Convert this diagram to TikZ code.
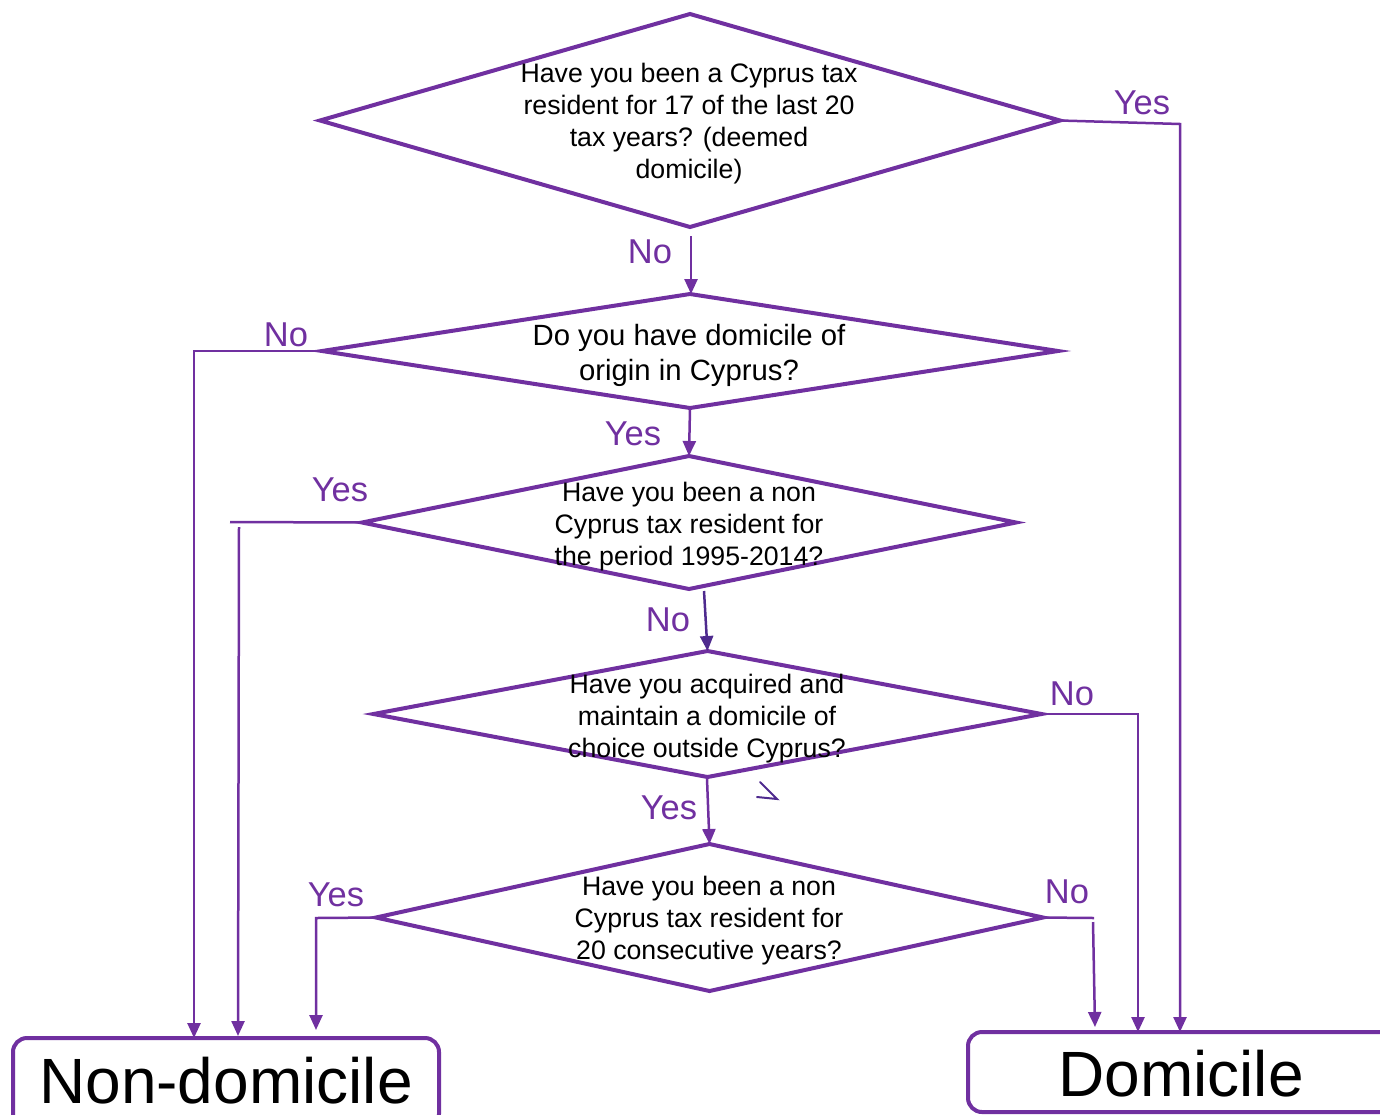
\documentclass[tikz,border=0pt]{standalone}
\usepackage{fontspec}
\setmainfont{Liberation Sans}
\usetikzlibrary{shapes.geometric,arrows.meta}
\definecolor{pur}{HTML}{7030A0}
\definecolor{dpur}{HTML}{4E2A8E}
\begin{document}
\begin{tikzpicture}[x=1pt,y=-1pt,
  dia/.style={diamond, draw=pur, line width=4pt, inner sep=0pt, outer sep=0pt},
  qtext/.style={align=center, text=black, inner sep=0pt, font=\fontsize{26.7}{32}\selectfont},
  qbig/.style={align=center, text=black, inner sep=0pt, font=\fontsize{29.3}{35}\selectfont},
  lbl/.style={text=pur, inner sep=0pt, font=\fontsize{34.5}{40}\selectfont},
  conn/.style={draw=pur, line width=2.5pt},
  arr/.style={conn, -{Triangle[length=15pt,width=13pt]}},
  endbox/.style={draw=pur, line width=4pt, rounded corners=14pt, inner sep=0pt, outer sep=0pt},
  endtext/.style={text=black, inner sep=0pt, font=\fontsize{64}{70}\selectfont}]
\useasboundingbox (0,0) rectangle (1380,1114);

% diamonds
\node[dia, minimum width=740pt, minimum height=213pt] (d1) at (690,120.5) {};
\node[qtext] (t1) at (689,124) {Have you been a Cyprus tax\\resident for 17 of the last 20\\tax years? (deemed\\domicile)};

\node[dia, minimum width=736pt, minimum height=114pt] (d2) at (690,351) {};
\node[qbig] (t2) at (689,355) {Do you have domicile of\\origin in Cyprus?};

\node[dia, minimum width=654pt, minimum height=133pt] (d3) at (689,522.5) {};
\node[qtext] (t3) at (689,527) {Have you been a non\\Cyprus tax resident for\\the period 1995-2014?};

\node[dia, minimum width=668pt, minimum height=126pt] (d4) at (707.5,714) {};
\node[qtext] (t4) at (707,719) {Have you acquired and\\maintain a domicile of\\choice outside Cyprus?};

\node[dia, minimum width=667pt, minimum height=147pt] (d5) at (709.5,917.5) {};
\node[qtext] (t5) at (709,921) {Have you been a non\\Cyprus tax resident for\\20 consecutive years?};

% outcome boxes
\node[endbox, minimum width=426pt, minimum height=90pt] (nd) at (226,1083) {};
\node[endtext] (ndt) at (226,1081) {Non-domicile};
\node[endbox, minimum width=426pt, minimum height=80pt] (dom) at (1181,1072) {};
\node[endtext] (domt) at (1181,1074) {Domicile};

% helper coordinates
\coordinate (c1) at (1180,124);
\coordinate (c2) at (194,351);
\coordinate (c3a) at (230,522);
\coordinate (c3b) at (239,527);
\coordinate (c4) at (1138,714);
\coordinate (c5l) at (316,918);
\coordinate (c5a) at (1094,918);
\coordinate (c5b) at (1093,922);
\coordinate (a12) at (691,236);
\coordinate (a34) at (704,591);
\coordinate (a45) at (707,779);

% connectors
\draw[arr] (d1.east) -- (c1) -- (c1 |- dom.north);
\draw[arr] (a12) -- (a12 |- d2.north);
\draw[arr] (d2.west) -- (c2) -- (c2 |- nd.north);
\draw[arr] (d2.south) -- (d3.north);
\draw[conn] (d3.west) -- (c3a);
\draw[arr] (c3b) -- (238,1036);
\draw[draw=dpur, line width=2.5pt, -{Triangle[length=15pt,width=13pt]}] (a34) -- (d4.north);
\draw[arr] (d4.east) -- (c4) -- (c4 |- dom.north);
\draw[arr] (a45) -- (d5.north);
\draw[arr] (d5.west) -- (c5l) -- (316,1030);
\draw[conn] (d5.east) -- (c5a);
\draw[arr] (c5b) -- (1095,1027);

% stray mark
\draw[dpur, line width=2pt, line cap=round] (760,782) -- (777,799) -- (757,797);

% labels
\node[lbl] (l1) at (1142,103) {Yes};
\node[lbl] (l2) at (650,252) {No};
\node[lbl] (l3) at (286,335) {No};
\node[lbl] (l4) at (633,434) {Yes};
\node[lbl] (l5) at (340,490) {Yes};
\node[lbl] (l6) at (668,620) {No};
\node[lbl] (l7) at (1072,694) {No};
\node[lbl] (l8) at (669,808) {Yes};
\node[lbl] (l9) at (336,895) {Yes};
\node[lbl] (l10) at (1067,892) {No};
\end{tikzpicture}
\end{document}
